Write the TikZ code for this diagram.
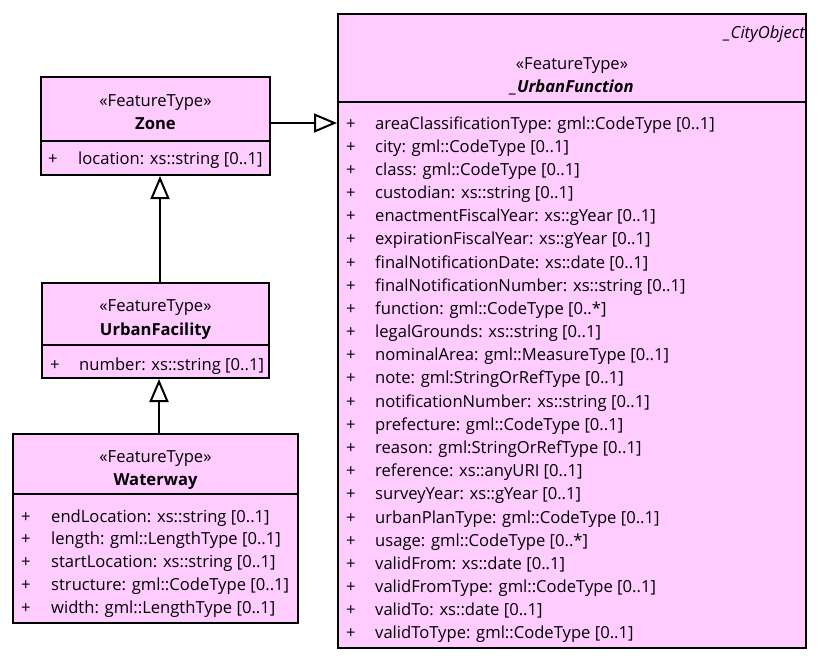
\documentclass[tikz,border=0pt]{standalone}
\usepackage{fontspec}
\setmainfont{Open Sans}
\usetikzlibrary{arrows.meta}
\definecolor{umlpink}{HTML}{FFCCFF}
\newcommand{\umlfs}{\fontsize{16.6}{19}\selectfont}
\tikzset{
  umlbox/.style={draw=black, line width=2pt, fill=umlpink, inner sep=0pt},
  divider/.style={line width=2pt},
  txt/.style={inner sep=0pt, font=\umlfs, anchor=base},
  attr/.style={txt, anchor=base west},
  gen/.style={line width=2pt, -{Triangle[open, fill=white, length=23pt, width=19pt, line width=2pt]}},
}
\begin{document}
\begin{tikzpicture}[x=1pt,y=-1pt]
\useasboundingbox (0,0) rectangle (823,665);
% boxes
\node[umlbox, minimum width=468pt, minimum height=634pt] (uf) at (572,331) {};
\node[umlbox, minimum width=229pt, minimum height=98pt] (zone) at (155.5,126) {};
\node[umlbox, minimum width=227pt, minimum height=95pt] (fac) at (155.5,330.5) {};
\node[umlbox, minimum width=285pt, minimum height=189pt] (ww) at (155.5,528.5) {};
% dividers
\draw[divider] (uf.west |- 0,102) -- (uf.east |- 0,102);
\draw[divider] (zone.west |- 0,141) -- (zone.east |- 0,141);
\draw[divider] (fac.west |- 0,345) -- (fac.east |- 0,345);
\draw[divider] (ww.west |- 0,494) -- (ww.east |- 0,494);
% headers
\node[txt, anchor=base east, font=\umlfs\itshape] (ufparent) at (805,38) {\_CityObject};
\node[txt] (ufst) at (572,69) {«FeatureType»};
\node[txt, font=\umlfs\bfseries\itshape] (ufname) at (572,92) {\_UrbanFunction};
\node[txt] (zonest) at (155.5,106) {«FeatureType»};
\node[txt, font=\umlfs\bfseries] (zonename) at (155.5,129) {Zone};
\node[txt] (facst) at (155.5,311) {«FeatureType»};
\node[txt, font=\umlfs\bfseries] (facname) at (155.5,335) {UrbanFacility};
\node[txt] (wwst) at (155.5,462) {«FeatureType»};
\node[txt, font=\umlfs\bfseries] (wwname) at (155.5,485) {Waterway};
% attributes
\node[attr] (zp) at (48,164) {+};
\node[attr] (za) at (78,164) {location: xs::string [0..1]};
\node[attr] (fp) at (50,370) {+};
\node[attr] (fa) at (79,370) {number: xs::string [0..1]};
\foreach \t [count=\i from 0] in {endLocation: xs::string [0..1], length: gml::LengthType [0..1], startLocation: xs::string [0..1], structure: gml::CodeType [0..1], width: gml::LengthType [0..1]} {
  \node[attr] (wp\i) at (21,522+22.8*\i) {+};
  \node[attr] (wa\i) at (51,522+22.8*\i) {\t};
}
\foreach \t [count=\i from 0] in {areaClassificationType: gml::CodeType [0..1], city: gml::CodeType [0..1], class: gml::CodeType [0..1], custodian: xs::string [0..1], enactmentFiscalYear: xs::gYear [0..1], expirationFiscalYear: xs::gYear [0..1], finalNotificationDate: xs::date [0..1], finalNotificationNumber: xs::string [0..1], function: gml::CodeType [0..*], legalGrounds: xs::string [0..1], nominalArea: gml::MeasureType [0..1], note: gml:StringOrRefType [0..1], notificationNumber: xs::string [0..1], prefecture: gml::CodeType [0..1], reason: gml:StringOrRefType [0..1], reference: xs::anyURI [0..1], surveyYear: xs::gYear [0..1], urbanPlanType: gml::CodeType [0..1], usage: gml::CodeType [0..*], validFrom: xs::date [0..1], validFromType: gml::CodeType [0..1], validTo: xs::date [0..1], validToType: gml::CodeType [0..1]} {
  \node[attr] (up\i) at (346,129+23.18*\i) {+};
  \node[attr] (ua\i) at (375,129+23.18*\i) {\t};
}
% generalizations
\coordinate (zr) at (zone.east |- 0,123);
\draw[gen] (zr) -- (uf.west |- zr);
\coordinate (ft) at (fac.north -| 160,0);
\draw[gen] (ft) -- (zone.south -| ft);
\coordinate (wt) at (ww.north -| 159,0);
\draw[gen] (wt) -- (fac.south -| wt);
\end{tikzpicture}
\end{document}
